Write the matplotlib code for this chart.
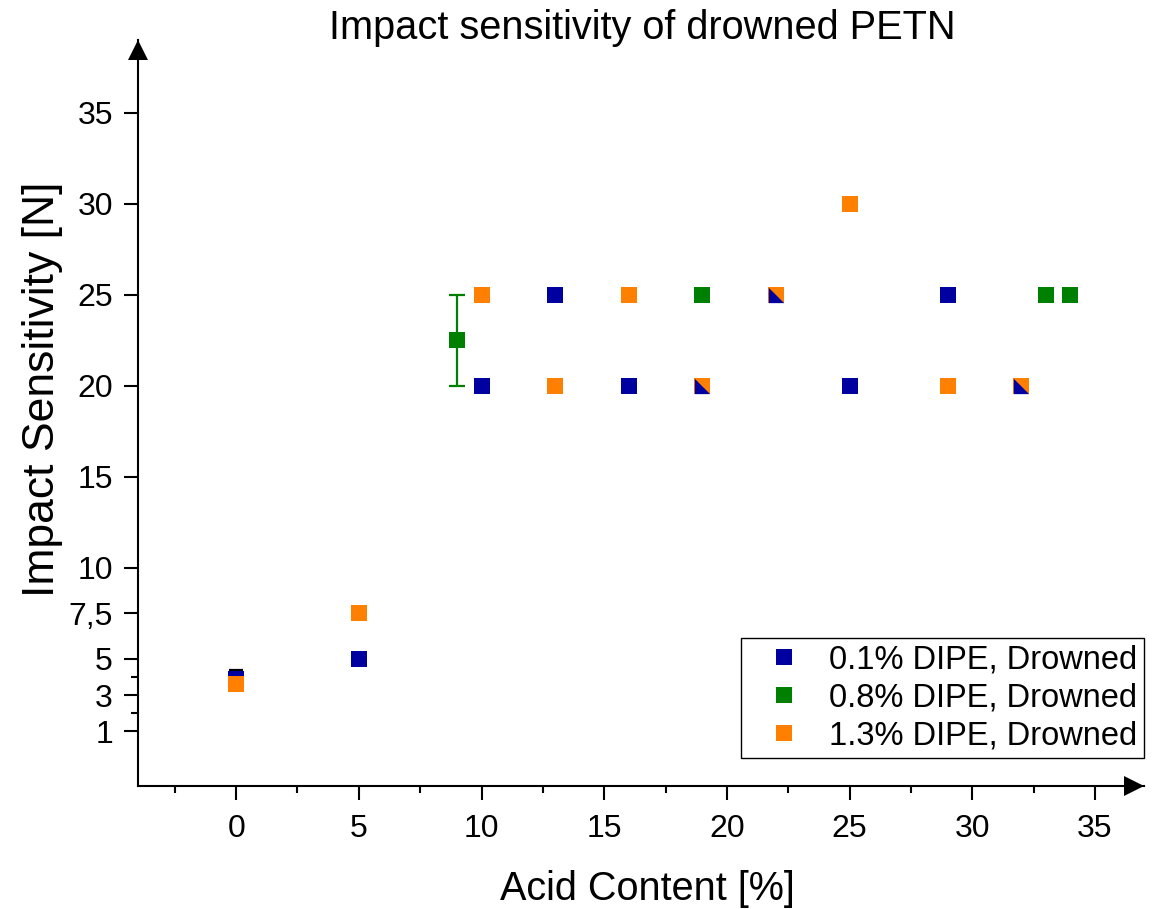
import matplotlib
matplotlib.use('Agg')
import matplotlib.pyplot as plt
from matplotlib.path import Path
from matplotlib.transforms import offset_copy
import numpy as np

plt.rcParams['font.family'] = ['Liberation Sans', 'DejaVu Sans']

# ---------------- data ----------------
title = "Impact sensitivity of drowned PETN"
xlabel = "Acid Content [%]"
ylabel = "Impact Sensitivity [N]"

labels = ["0.1% DIPE, Drowned", "0.8% DIPE, Drowned", "1.3% DIPE, Drowned"]
colors = ["#0000A0", "#008000", "#FF8000"]

blue_x = [0, 5, 10, 13, 16, 19, 22, 25, 29, 32]
blue_y = [3.9, 5, 20, 25, 20, 20, 25, 20, 25, 20]
blue_err = [0.45, 0, 0, 0, 0, 0, 0, 0, 0, 0]

green_x = [0, 9, 19, 33, 34]
green_y = [3.6, 22.5, 25, 25, 25]
green_err = [0, 2.5, 0, 0, 0]

orange_x = [0, 5, 10, 13, 16, 19, 22, 25, 29, 32]
orange_y = [3.6, 7.5, 25, 20, 25, 20, 25, 30, 20, 20]

xticks = [0, 5, 10, 15, 20, 25, 30, 35]
xminor = [-2.5, 2.5, 7.5, 12.5, 17.5, 22.5, 27.5, 32.5]
yticks = [1, 3, 5, 7.5, 10, 15, 20, 25, 30, 35]
ytick_labels = ["1", "3", "5", "7,5", "10", "15", "20", "25", "30", "35"]
yminor = [2, 4]

# ---------------- figure ----------------
W, H = 1170, 909
fig = plt.figure(figsize=(W / 100, H / 100), dpi=100)
ax = fig.add_axes([138 / W, 1 - 786 / H, (1144 - 138) / W, (786 - 40) / H])
ax.set_xlim(-4, 37)
ax.set_ylim(-2, 39)

MS = 11

def plot_err(x, y, err, color, capsize):
    x = np.asarray(x, float); y = np.asarray(y, float); err = np.asarray(err, float)
    m = err > 0
    if m.any():
        ax.errorbar(x[m], y[m], yerr=err[m], fmt='none', ecolor=color,
                    elinewidth=1.6, capsize=capsize, capthick=1.6, zorder=2)

# green first (lies underneath at x = 0)
plot_err(green_x, green_y, green_err, colors[1], 6)
h_green, = ax.plot(green_x, green_y, ls='none', marker='s', ms=12, mew=0,
                   color=colors[1], zorder=3)
h_blue, = ax.plot(blue_x, blue_y, ls='none', marker='s', ms=MS, mew=0,
                  color=colors[0], zorder=4)
plot_err(blue_x, blue_y, blue_err, 'black', 5)
h_orange, = ax.plot(orange_x, orange_y, ls='none', marker='s', ms=MS, mew=0,
                    color=colors[2], zorder=5)

# shared points blue/orange: lower-left half blue
orange_set = set(zip(orange_x, orange_y))
shared = [(bx, by) for bx, by in zip(blue_x, blue_y)
          if (bx, by) in orange_set and bx != 0]
tri = Path([(-1, -1), (1, -1), (-1, 1), (-1, -1)],
           [Path.MOVETO, Path.LINETO, Path.LINETO, Path.CLOSEPOLY])
if shared:
    sx, sy = zip(*shared)
    ax.plot(sx, sy, ls='none', marker=tri, ms=MS, mew=0, color=colors[0], zorder=6)

# ---------------- axes styling ----------------
for s in ['top', 'right']:
    ax.spines[s].set_visible(False)
for s in ['left', 'bottom']:
    ax.spines[s].set_linewidth(1.5)

ax.set_xticks(xticks)
ax.set_xticks(xminor, minor=True)
ax.set_yticks(yticks, labels=ytick_labels)
ax.set_yticks(yminor, minor=True)
ax.tick_params(which='major', length=10, width=1.5, labelsize=23, direction='out')
ax.tick_params(which='minor', length=5, width=1.5, direction='out')
ax.tick_params(axis='x', which='major', pad=10.5)
ax.tick_params(axis='y', which='major', pad=8)

# arrows at axis ends
ax.plot([0], [1], marker='^', ms=14.5, mew=0, color='k', clip_on=False,
        transform=offset_copy(ax.transAxes, fig=fig, x=0, y=-10, units='dots'), zorder=10)
ax.plot([1], [0], marker='>', ms=14.5, mew=0, color='k', clip_on=False,
        transform=offset_copy(ax.transAxes, fig=fig, x=-10, y=0, units='dots'), zorder=10)

# legend
leg = ax.legend([h_blue, h_green, h_orange], labels, loc='lower right',
                bbox_to_anchor=(1144 / W, 1 - 758 / H), bbox_transform=fig.transFigure,
                borderaxespad=0, fontsize=23.5, frameon=True, fancybox=False,
                edgecolor='k', framealpha=1, borderpad=0.2, handlelength=2.2,
                handletextpad=0.3, labelspacing=0.22, numpoints=1)
leg.get_frame().set_linewidth(1.0)
for lh in leg.legend_handles:
    lh.set_markersize(MS)

# texts
fig.text(642 / W, 1 - 39 / H, title, ha='center', va='baseline', fontsize=28.6)
fig.text(647 / W, 9 / H, xlabel, ha='center', va='baseline', fontsize=28.5)
fig.text(54 / W, 1 - 389 / H, ylabel, rotation=90, rotation_mode='anchor',
         ha='center', va='baseline', fontsize=32)

fig.savefig('out.png', dpi=100)
